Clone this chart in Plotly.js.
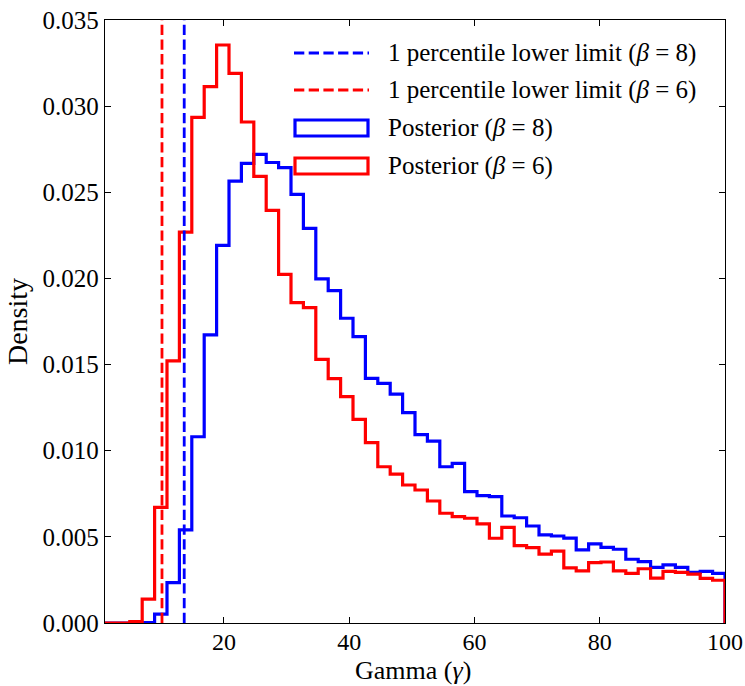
<!DOCTYPE html>
<html>
<head>
<meta charset="utf-8">
<script src="https://cdn.plot.ly/plotly-3.0.1.min.js"></script>
<style>html,body{margin:0;padding:0;background:#fff;}#chart{width:745px;height:686px;}</style>
</head>
<body>
<div id="chart"></div>
<script>
// Histogram: 50 bins between gamma = 1 and gamma = 100
const binStart = 1;
const binEnd = 100;
const nBins = 50;

// Density per bin, beta = 8 (blue)
const posteriorBeta8 = [
  0, 0, 0, 0.00003, 0.00052, 0.00234, 0.0054, 0.01081, 0.01672, 0.02192,
  0.02565, 0.02668, 0.0272, 0.02673, 0.02643, 0.02488, 0.02291, 0.01997, 0.01929, 0.01769,
  0.01662, 0.0142, 0.01391, 0.01329, 0.01221, 0.01093, 0.01056, 0.00907, 0.00927, 0.00762,
  0.00739, 0.00733, 0.00621, 0.00611, 0.00563, 0.00511, 0.00505, 0.00493, 0.00424, 0.00459,
  0.00439, 0.00428, 0.0037, 0.00356, 0.00323, 0.00337, 0.00323, 0.00294, 0.003, 0.00288
];
// Density per bin, beta = 6 (red)
const posteriorBeta6 = [
  0, 0, 0.00008, 0.00139, 0.00671, 0.01521, 0.02269, 0.02935, 0.03113, 0.03355,
  0.0319, 0.02908, 0.02592, 0.02395, 0.02024, 0.01859, 0.0183, 0.0153, 0.01418, 0.01314,
  0.01182, 0.01047, 0.00907, 0.00864, 0.00801, 0.00772, 0.00708, 0.00637, 0.00617, 0.00608,
  0.00575, 0.00492, 0.00555, 0.00449, 0.00437, 0.004, 0.00417, 0.0032, 0.00302, 0.0035,
  0.00354, 0.00302, 0.00288, 0.00315, 0.00261, 0.003, 0.00294, 0.00284, 0.00259, 0.00248
];

// 1 percentile lower limits
const lowerLimitBeta8 = 13.65;
const lowerLimitBeta6 = 10.1;

const xTicks = [20, 40, 60, 80, 100];
const xTitle = 'Gamma (<i>γ</i>)';
const yTitle = 'Density';
const legendLabels = [
  '1 percentile lower limit (<i>β</i> = 8)',
  '1 percentile lower limit (<i>β</i> = 6)',
  'Posterior (<i>β</i> = 8)',
  'Posterior (<i>β</i> = 6)'
];

const BLUE = '#0000ff';
const RED = '#ff0000';
const FONT = "'Liberation Serif', 'Times New Roman', serif";

const width = (binEnd - binStart) / nBins;
const edges = [];
for (let i = 0; i <= nBins; i++) edges.push(binStart + i * width);

function stepTrace(vals, color, name) {
  const x = [edges[0]];
  const y = [0];
  for (let i = 0; i < vals.length; i++) { x.push(edges[i]); y.push(vals[i]); }
  x.push(edges[nBins]); y.push(0);
  return {
    type: 'scatter', mode: 'lines', x: x, y: y, name: name,
    line: {shape: 'hv', color: color, width: 3.2},
    showlegend: false, hoverinfo: 'skip', cliponaxis: true
  };
}

const traces = [
  stepTrace(posteriorBeta8, BLUE, 'Posterior (β = 8)'),
  stepTrace(posteriorBeta6, RED, 'Posterior (β = 6)')
];

// plot area in pixels: left 105, right 725, top 20, bottom 623
const L = 105, R = 725, T = 20, B = 623;
const px = v => (v - L) / (R - L);
const py = v => (B - v) / (B - T);

const dash = '10.3px,4.4px';
const shapes = [
  {type: 'line', xref: 'x', yref: 'paper', x0: lowerLimitBeta8, x1: lowerLimitBeta8, y0: 0, y1: 1,
   line: {color: BLUE, width: 2.8, dash: dash}, layer: 'above'},
  {type: 'line', xref: 'x', yref: 'paper', x0: lowerLimitBeta6, x1: lowerLimitBeta6, y0: 0, y1: 1,
   line: {color: RED, width: 2.8, dash: dash}, layer: 'above'},
  // legend handles
  {type: 'line', xref: 'paper', yref: 'paper', x0: px(294), x1: px(369), y0: py(53), y1: py(53),
   line: {color: BLUE, width: 2.8, dash: dash}},
  {type: 'line', xref: 'paper', yref: 'paper', x0: px(294), x1: px(369), y0: py(90), y1: py(90),
   line: {color: RED, width: 2.8, dash: dash}},
  {type: 'rect', xref: 'paper', yref: 'paper', x0: px(295), x1: px(368), y0: py(120), y1: py(136),
   line: {color: BLUE, width: 3.2}, fillcolor: 'rgba(0,0,0,0)'},
  {type: 'rect', xref: 'paper', yref: 'paper', x0: px(295), x1: px(368), y0: py(158), y1: py(174),
   line: {color: RED, width: 3.2}, fillcolor: 'rgba(0,0,0,0)'}
];

const rowY = [53, 90, 128, 166];
const annotations = legendLabels.map((t, i) => ({
  xref: 'paper', yref: 'paper', x: px(386), y: py(rowY[i]), xanchor: 'left', yanchor: 'middle',
  text: t, showarrow: false, font: {family: FONT, size: 25, color: '#000'}
}));
annotations.push({
  xref: 'paper', yref: 'paper', x: px(413), y: py(686), xanchor: 'center', yanchor: 'bottom',
  text: xTitle, showarrow: false, borderpad: 0, font: {family: FONT, size: 26, color: '#000'}
});

const layout = {
  width: 745, height: 686,
  margin: {l: L, r: 745 - R, t: T, b: 686 - B, pad: 0},
  paper_bgcolor: '#fff', plot_bgcolor: '#fff',
  showlegend: false,
  font: {family: FONT, size: 25, color: '#000'},
  xaxis: {
    range: [binStart, binEnd], tickvals: xTicks, ticktext: xTicks.map(String),
    ticks: 'inside', ticklen: 6, tickwidth: 1, tickcolor: '#000',
    showline: true, mirror: 'ticks', linecolor: '#000', linewidth: 1.2,
    showgrid: false, zeroline: false, ticklabeloverflow: 'allow', ticklabelstandoff: -3,
    tickfont: {family: FONT, size: 24, color: '#000'}
  },
  yaxis: {
    range: [0, 0.035], dtick: 0.005, tick0: 0, tickformat: '.3f',
    ticks: 'inside', ticklen: 6, tickwidth: 1, tickcolor: '#000',
    showline: true, mirror: 'ticks', linecolor: '#000', linewidth: 1.2,
    showgrid: false, zeroline: false, ticklabeloverflow: 'allow',
    tickfont: {family: FONT, size: 25, color: '#000'},
    title: {text: yTitle, font: {family: FONT, size: 28, color: '#000'}, standoff: 6}
  },
  shapes: shapes,
  annotations: annotations
};

Plotly.newPlot('chart', traces, layout, {displayModeBar: false, staticPlot: true});
</script>
</body>
</html>
